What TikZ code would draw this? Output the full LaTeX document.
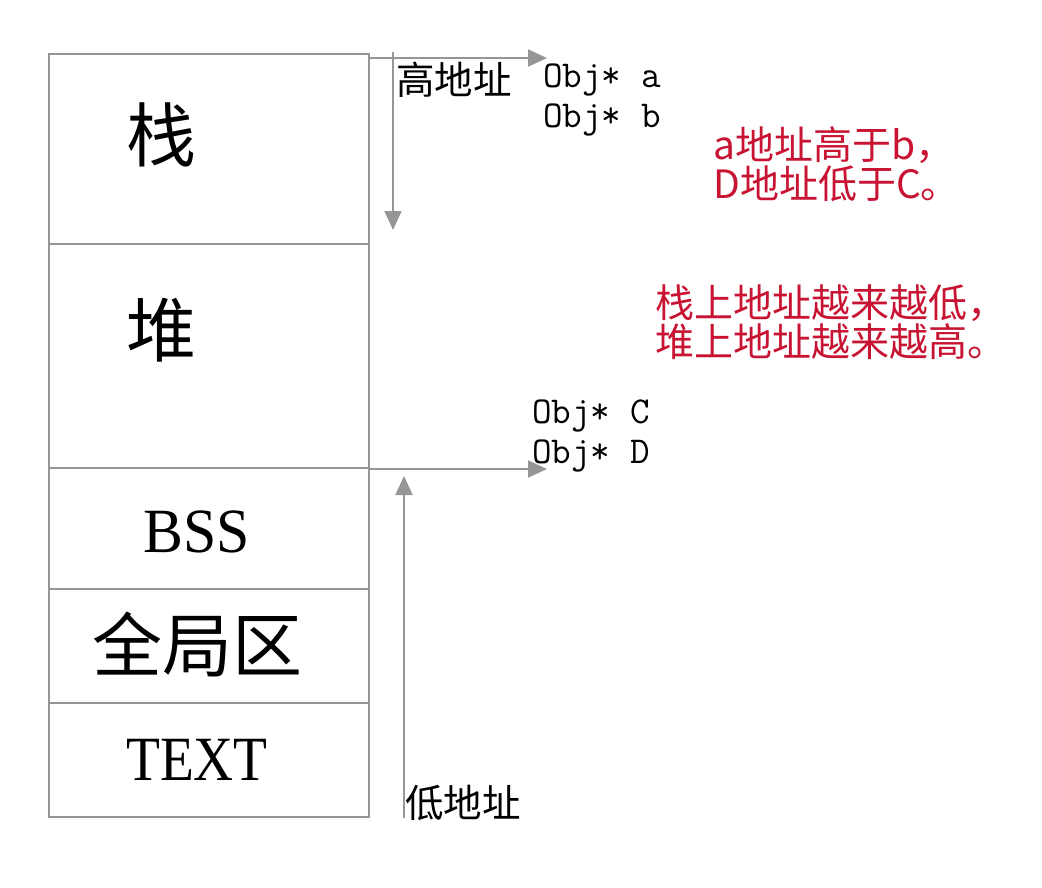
\documentclass[tikz,border=0pt]{standalone}
\usepackage{fontspec}
\usepackage{graphicx}
\setmainfont{Liberation Serif}
\newfontfamily\cjk{Noto Sans CJK SC}
\usetikzlibrary{arrows.meta}
\definecolor{linegray}{RGB}{150,150,150}
\definecolor{notered}{RGB}{200,20,50}
\tikzset{
  seg/.style={draw=linegray, line width=1.7pt, minimum width=320pt, inner sep=0pt, anchor=north west},
  big/.style={inner sep=0pt, font=\cjk\fontsize{70}{74}\selectfont},
  biglat/.style={inner sep=0pt, font=\fontsize{63}{66}\selectfont},
  addr/.style={inner sep=0pt, anchor=west, font=\cjk\fontsize{38.5}{40}\selectfont},
  code/.style={inner sep=0pt, anchor=west, align=left, font=\ttfamily\fontsize{38}{40}\selectfont},
  note/.style={inner sep=0pt, anchor=west, align=left, text=notered, font=\cjk\fontsize{39}{39}\selectfont},
  arr/.style={draw=linegray, line width=1.9pt, -{Triangle[length=19pt,width=17pt]}}
}
\begin{document}
\begin{tikzpicture}[x=1pt,y=-1pt]
\useasboundingbox (0,0) rectangle (1042,888);
% segments
\node[seg, minimum height=190pt] (stack) at (48,53) {};
\node[seg, minimum height=224pt] (heap) at (48,243) {};
\node[seg, minimum height=121pt] (bss) at (48,467) {};
\node[seg, minimum height=114pt] (glob) at (48,588) {};
\node[seg, minimum height=114pt] (text) at (48,702) {};
% labels
\node[big] (lstack) at (161,135) {栈};
\node[big] (lheap) at (161,330) {堆};
\node[biglat] (lbss) at (197,532) {\scalebox{0.95}[1]{BSS}};
\node[big] (lglob) at (197,645) {全局区};
\node[biglat] (ltext) at (197,760) {\scalebox{0.88}[1]{TEXT}};
% arrow anchors
\coordinate (h1s) at (368,58);
\coordinate (h1e) at (547,58);
\coordinate (v1s) at (393,52);
\coordinate (v1e) at (393,230);
\coordinate (h2s) at (368,469);
\coordinate (h2e) at (547,469);
\coordinate (v2s) at (404,818);
\coordinate (v2e) at (404,476);
\draw[arr] (h1s) -- (h1e);
\draw[arr] (v1s) -- (v1e);
\draw[arr] (h2s) -- (h2e);
\draw[arr] (v2s) -- (v2e);
% texts
\node[addr] (high) at (396,80) {高地址};
\node[addr] (low) at (405,803) {低地址};
\node[code] (ab) at (543,100) {Obj* a\\Obj* b};
\node[code] (cd) at (532,436) {Obj* C\\Obj* D};
\node[note] (n1) at (713,164) {a地址高于b，\\D地址低于C。};
\node[note] (n2) at (655,322) {栈上地址越来越低，\\堆上地址越来越高。};
\end{tikzpicture}
\end{document}
